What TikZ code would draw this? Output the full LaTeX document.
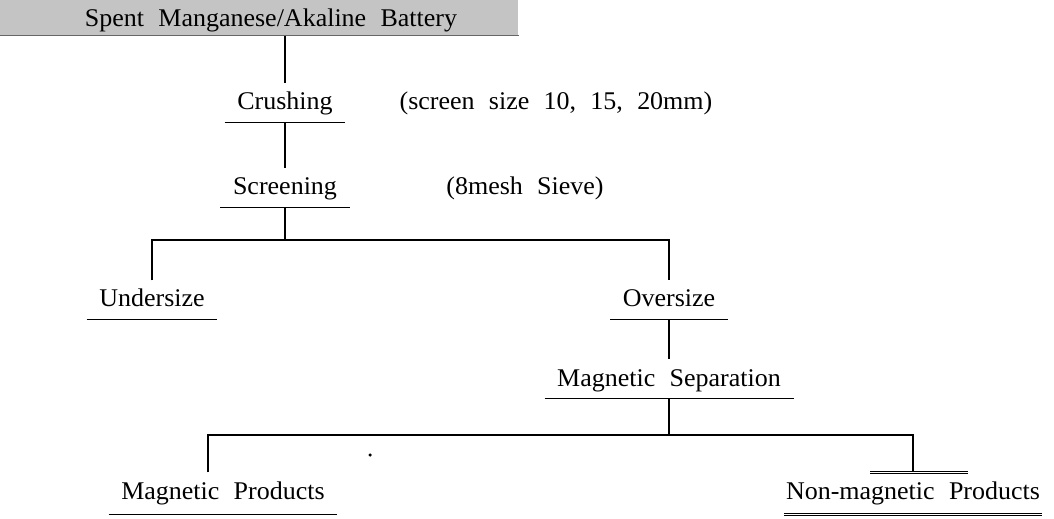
\documentclass[tikz,border=0pt]{standalone}
\usepackage{fontspec}
\setmainfont{Liberation Serif}[FakeStretch=1.02,WordSpace=2.2]
\usetikzlibrary{positioning,calc}

\tikzset{
  stage/.style={anchor=base, inner xsep=0.24cm, inner ysep=0.12cm, text height=0.40cm, text depth=0.12cm},
  ul/.style={append after command={(\tikzlastnode.south west) edge[#1] (\tikzlastnode.south east)}},
  ul/.default={},
  note/.style={anchor=base, inner sep=0pt},
  dbl/.style={double, double distance=0.9pt, line width=0.5pt},
}

\begin{document}
\begin{tikzpicture}[line width=0.8pt, font=\fontsize{14.5pt}{17pt}\selectfont]
  \useasboundingbox (0,0) rectangle (21.08,10.36);
  % source
  \node[fill=black!23, minimum width=10.36cm, minimum height=0.70cm, inner sep=0pt] (bar) at (5.18,10.01) {};
  \draw[black!60] (bar.south west) -- (bar.south east);
  \node[note] (src) at (5.42,9.82) {Spent Manganese/Akaline Battery};
  % crushing and screening
  \node[stage,ul] (crush) at (5.70,8.16) {Crushing};
  \node[note] (crushnote) at (11.12,8.16) {(screen size 10, 15, 20mm)};
  \node[stage,ul] (screen) at (5.70,6.46) {Screening};
  \node[note] (screennote) at (10.50,6.46) {(8mesh Sieve)};
  \draw (crush.north |- bar.south) -- (crush.north);
  \draw (crush.south) -- (screen.north);
  % first split
  \coordinate (split1) at (5.70,5.56);
  \node[stage,ul] (under) at (3.04,4.22) {Undersize};
  \node[stage,ul] (over) at (13.38,4.22) {Oversize};
  \draw (screen.south) -- (split1);
  \draw (under.north) -- (under.north |- split1) -- (over.north |- split1) -- (over.north);
  % magnetic separation
  \node[stage,ul] (magsep) at (13.38,2.64) {Magnetic Separation};
  \draw (over.south) -- (magsep.north);
  \coordinate (split2) at (13.38,1.66);
  \node[stage,ul,text depth=0.18cm] (magprod) at (4.46,0.38) {Magnetic Products};
  \node[stage,ul=dbl,inner xsep=0.02cm,text depth=0.18cm] (nonmag) at (18.26,0.38) {Non-magnetic Products};
  \coordinate (magtop) at ($(magprod.north)+(-0.30,0)$);
  \draw (magsep.south) -- (split2);
  \draw (magtop) -- (magtop |- split2) -- (split2 -| nonmag.north) -- (nonmag.north);
  \draw[dbl] ([xshift=-0.86cm]nonmag.north) -- ([xshift=1.10cm]nonmag.north);
  \fill (7.40,1.26) circle (0.035);
\end{tikzpicture}
\end{document}
